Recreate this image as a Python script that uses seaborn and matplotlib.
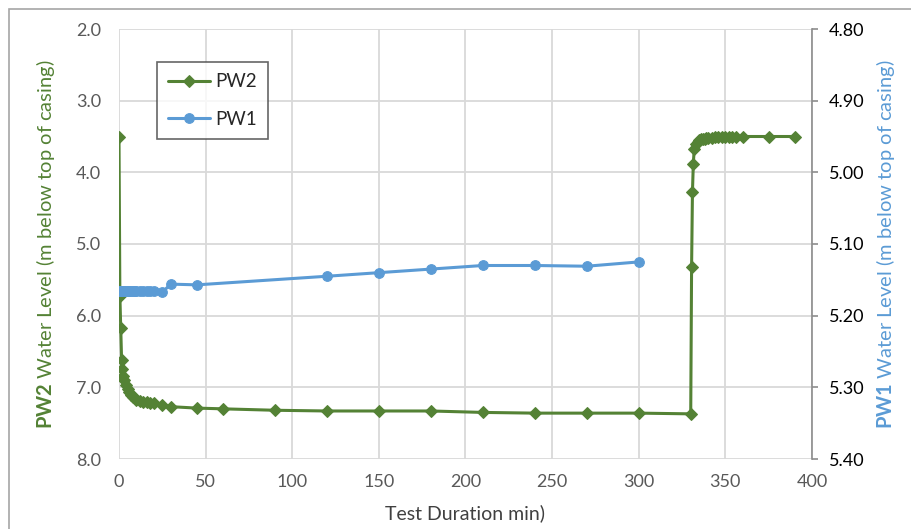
import matplotlib
matplotlib.use("Agg")
import matplotlib.pyplot as plt
import matplotlib.patches as patches
from matplotlib.ticker import FormatStrFormatter
import seaborn as sns
import pandas as pd

# PW2: pumping then recovery (min, m below top of casing)
pw2_time = [0, 0.5, 1, 1.5, 2, 2.5, 3, 4, 5, 6, 7, 8, 9, 10, 12, 14, 16, 18, 20,
            25, 30, 45, 60, 90, 120, 150, 180, 210, 240, 270, 300, 330,
            330.5, 331, 331.5, 332, 333, 334, 335, 336, 337, 338, 339, 340,
            342, 344, 346, 348, 350, 352, 354, 356, 360, 375, 390]
pw2_level = [3.50, 5.72, 6.17, 6.62, 6.75, 6.84, 6.90, 6.97, 7.03, 7.07, 7.10, 7.13, 7.15, 7.17,
             7.19, 7.20, 7.21, 7.22, 7.22,
             7.24, 7.27, 7.29, 7.30, 7.32, 7.33, 7.33, 7.33, 7.35, 7.36, 7.36, 7.36, 7.37,
             5.32, 4.27, 3.88, 3.68, 3.60, 3.57, 3.55, 3.54, 3.53, 3.53, 3.52, 3.52,
             3.52, 3.51, 3.51, 3.51, 3.51, 3.51, 3.50, 3.50, 3.50, 3.50, 3.50]

# PW1: observation well
pw1_time = [0, 0.5, 1, 1.5, 2, 2.5, 3, 4, 5, 6, 7, 8, 9, 10, 12, 14, 16, 18, 20,
            25, 30, 45, 120, 150, 180, 210, 240, 270, 300]
pw1_level = [5.166] * 19 + [5.167, 5.156, 5.157, 5.145, 5.140, 5.135, 5.130, 5.130, 5.131, 5.125]

green = "#548235"
blue = "#5B9BD5"

sns.set_style("white")
plt.rcParams["font.family"] = ["Lato", "DejaVu Sans"]
plt.rcParams["mathtext.fontset"] = "custom"
plt.rcParams["mathtext.rm"] = "Lato"
plt.rcParams["mathtext.bf"] = "Lato:bold"

df2 = pd.DataFrame({"t": pw2_time, "level": pw2_level})
df1 = pd.DataFrame({"t": pw1_time, "level": pw1_level})

fig = plt.figure(figsize=(9.12, 5.29), dpi=100)
ax = fig.add_axes([119 / 912, 70 / 529, 693 / 912, 430 / 529])
ax2 = ax.twinx()

sns.lineplot(data=df2, x="t", y="level", ax=ax, sort=False, estimator=None,
             color=green, lw=2.2, marker="D", markersize=6.5, markeredgecolor=green,
             label="PW2", legend=False)
sns.lineplot(data=df1, x="t", y="level", ax=ax2, sort=False, estimator=None,
             color=blue, lw=2.2, marker="o", markersize=7, markeredgecolor=blue,
             label="PW1", legend=False)

ax.set_xlim(0, 400)
ax.set_xticks(range(0, 401, 50))
ax.set_ylim(8, 2)
ax.set_yticks([2, 3, 4, 5, 6, 7, 8])
ax.yaxis.set_major_formatter(FormatStrFormatter("%.1f"))
ax2.set_ylim(5.40, 4.80)
ax2.set_yticks([4.80, 4.90, 5.00, 5.10, 5.20, 5.30, 5.40])
ax2.yaxis.set_major_formatter(FormatStrFormatter("%.2f"))

ax.grid(True, color="#d9d9d9", lw=1.3)
ax.set_axisbelow(True)
for s in ["left", "bottom", "top", "right"]:
    ax.spines[s].set_visible(False)
for s in ["left", "bottom", "top"]:
    ax2.spines[s].set_visible(False)
ax2.spines["right"].set_color("#8c8c8c")
ax2.spines["right"].set_linewidth(1.2)

ax.tick_params(axis="both", length=0, labelsize=13, labelcolor="#595959")
ax.tick_params(axis="y", pad=13)
ax.tick_params(axis="x", pad=11)
ax2.tick_params(axis="y", length=4, width=1.2, color="#8c8c8c", direction="out",
                labelsize=13, labelcolor="black", pad=8)

ax.set_xlabel("Test Duration min)", fontsize=14, color="#404040")
ax.xaxis.set_label_coords(0.5, -0.105)
ax.set_ylabel(r"$\bf{PW2}$ Water Level (m below top of casing)", fontsize=14.5, color=green)
ax.yaxis.set_label_coords(-0.09, 0.5)
ax2.set_ylabel(r"$\bf{PW1}$ Water Level (m below top of casing)", fontsize=14.5, color=blue)
ax2.yaxis.set_label_coords(1.09, 0.5)

h1, l1 = ax.get_legend_handles_labels()
h2, l2 = ax2.get_legend_handles_labels()
leg = ax2.legend(h1 + h2, l1 + l2, loc="upper left", bbox_to_anchor=(0.055, 0.923),
                 borderaxespad=0, fontsize=13.5, frameon=True, fancybox=False,
                 handlelength=2.2, borderpad=0.6, labelspacing=1.1, handletextpad=0.3)
leg.get_frame().set_edgecolor("#404040")
leg.get_frame().set_linewidth(1.2)

# outer chart frame
fig.patches.append(patches.Rectangle((9 / 912, -0.1), 1.2, 1 - 9 / 529 + 0.1,
                                     transform=fig.transFigure, fill=False,
                                     edgecolor="#a6a6a6", lw=1.2))

fig.savefig("out.png", dpi=100)
